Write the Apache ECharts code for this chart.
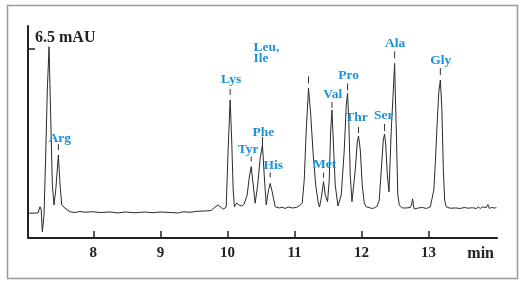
<!DOCTYPE html>
<html>
<head>
<meta charset="utf-8">
<script src="https://cdn.jsdelivr.net/npm/echarts@6/dist/echarts.min.js"></script>
<style>html,body{margin:0;padding:0;background:#fff}#c{width:522px;height:288px}</style>
</head>
<body>
<div id="c"></div>
<script>
// Chromatogram trace: retention time (min) and absorbance (mAU)
var traceTime = [7.033,7.175,7.204,7.222,7.239,7.264,7.287,7.313,7.339,7.361,7.388,7.413,7.439,7.478,7.503,7.528,7.578,7.652,
7.727,7.801,7.876,7.98,8.1,8.249,8.369,8.473,8.622,8.772,8.876,8.996,9.145,9.264,9.339,9.443,9.563,9.667,9.757,9.816,9.861,9.906,9.94,9.981,
10.01,10.04,10.063,10.085,10.104,10.14,10.167,10.19,10.215,10.249,10.294,10.324,10.354,10.384,10.413,10.451,10.488,10.522,10.548,10.578,
10.607,10.637,10.667,10.712,10.772,10.816,10.861,10.906,10.966,11.025,11.07,11.115,11.145,11.175,11.209,11.242,11.279,11.316,11.354,11.373,
11.399,11.433,11.458,11.493,11.518,11.54,11.558,11.578,11.607,11.648,11.697,11.742,11.772,11.791,11.809,11.831,11.857,11.906,11.936,11.955,11.981,12.01,12.04,12.07,
12.115,12.145,12.19,12.234,12.264,12.294,12.324,12.343,12.361,12.384,12.409,12.443,12.469,12.493,12.506,12.52,12.54,12.563,12.607,
12.667,12.727,12.734,12.749,12.761,12.775,12.787,12.846,12.906,12.966,13.025,13.051,13.078,13.1,13.13,13.152,13.175,13.197,13.22,13.239,13.264,
13.324,13.399,13.473,13.533,13.593,13.652,13.712,13.742,13.772,13.802,13.831,13.861,13.884,13.906,13.936,13.981,14.011];
var traceMAU = [-0.05,-0.04,0.21,0.08,-0.79,-0.12,2.07,4.86,6.59,4.07,1.08,0.28,0.88,2.27,1.08,0.28,0.15,0.01,
-0.02,0.02,-0.01,0.01,-0.02,0,-0.04,0,-0.03,0,-0.03,0,-0.02,-0.04,0.01,-0.01,0.03,0.04,0.06,0.2,0.28,0.18,0.11,0.2,
2.47,4.47,2.87,0.88,0.21,0.36,0.28,0.34,0.24,0.32,0.68,1.36,1.81,1.08,0.35,1.08,2.15,2.67,1.48,0.28,
0.8,1.14,0.8,0.21,0.16,0.19,0.14,0.2,0.16,0.18,0.24,0.36,1.28,3.27,4.93,3.87,2.27,1.08,0.36,0.2,
0.56,1.21,0.68,0.41,1.28,3.27,4.07,2.87,1.08,0.24,0.68,2.47,4.27,4.73,3.71,1.48,0.41,1.67,2.79,3.03,2.47,1.08,0.36,0.2,
0.18,0.14,0.16,0.24,0.48,1.67,2.87,3.11,2.67,1.48,0.8,3.27,4.6,5.93,4.47,3.07,0.68,0.28,0.16,
0.16,0.18,0.12,0.32,0.52,0.24,0.12,0.16,0.18,0.14,0.2,0.21,0.88,1.94,3.67,4.78,5.26,4.15,1.67,0.48,0.2,
0.15,0.16,0.14,0.18,0.15,0.17,0.14,0.2,0.14,0.2,0.13,0.18,0.3,0.14,0.18,0.16,0.17];

// Peak annotations
var peakNames = ['Arg','Lys','Tyr','Phe','His','Leu,\nIle','Met','Val','Pro','Thr','Ser','Ala','Gly'];
var peakTimes = [7.478,10.04,10.354,10.522,10.637,11.209,11.433,11.558,11.791,11.955,12.343,12.493,13.175];
var peakHeights = [2.27,4.47,1.81,2.67,1.14,4.93,1.21,4.07,4.73,3.03,3.11,5.93,5.26];

// Tick labels
var xTicks = [8,9,10,11,12,13];
var yTicks = [6.5];

// label nudges (pixels) - styling only: [dx, dy, tickStart, tickEnd]
var nudge = {
  'Arg':[1.4,1,5,11], 'Lys':[1,-2.7,5,11], 'Tyr':[-3,1.3,5,10], 'Phe':[1,5.7,0,8], 'His':[3,0,6,11],
  'Leu,\nIle':[-55,-17,5,12], 'Met':[1,1.3,4,9], 'Val':[0.8,3,2,8], 'Pro':[1,0,3,10], 'Thr':[-2,0,3,9],
  'Ser':[-0.8,0,3,10], 'Ala':[0.5,-2,5,12], 'Gly':[0.5,-1.3,5,12]
};

var serif = '"Liberation Serif", "DejaVu Serif", serif';
var blue = '#1a92d6';
var ink = '#222';

var traceData = traceTime.map(function(t,i){return [t, traceMAU[i]];});
var peakData = peakTimes.map(function(t,i){return [t, peakHeights[i], i];});

var chart = echarts.init(document.getElementById('c'), null, {renderer:'canvas'});
chart.setOption({
  animation:false,
  backgroundColor:'#fff',
  grid:{left:28, right:25, top:26, bottom:50, outerBoundsMode:'none', containLabel:false},
  xAxis:{
    type:'value', min:7.025, max:14.02,
    name:'min', nameLocation:'end', nameGap:-3,
    nameTextStyle:{fontFamily:serif, fontWeight:'bold', fontSize:16, color:ink, align:'right', verticalAlign:'top', padding:[8,0,0,0]},
    axisLine:{show:true, onZero:false, lineStyle:{color:ink, width:2}},
    axisTick:{show:true, inside:true, length:7, customValues:xTicks, lineStyle:{color:ink, width:1.5}},
    axisLabel:{show:true, customValues:xTicks, margin:8, fontFamily:serif, fontWeight:'bold', fontSize:15, color:ink},
    splitLine:{show:false}
  },
  yAxis:{
    type:'value', min:-1.037, max:7.416,
    axisLine:{show:true, onZero:false, lineStyle:{color:ink, width:2}},
    axisTick:{show:true, inside:true, length:7, customValues:yTicks, lineStyle:{color:ink, width:1.5}},
    axisLabel:{show:true, inside:true, customValues:yTicks, margin:7, formatter:'{value} mAU',
      verticalAlign:'bottom', padding:[0,0,3,0], fontFamily:serif, fontWeight:'bold', fontSize:16, color:ink},
    splitLine:{show:false}
  },
  graphic:[{type:'rect', shape:{x:7.5, y:5.5, width:510, height:273}, style:{fill:'none', stroke:'#9a9a9a', lineWidth:1.5}, silent:true, z:-1}],
  series:[
    {type:'line', data:traceData, symbol:'none', smooth:false,
      lineStyle:{color:'#2a2a2a', width:1}, z:2},
    {type:'custom', data:peakData, z:3,
      renderItem:function(params, api){
        var idx = api.value(2);
        var name = peakNames[idx];
        var n = nudge[name];
        var p = api.coord([api.value(0), api.value(1)]);
        var multi = name.indexOf('\n') >= 0;
        return {type:'group', children:[
          {type:'line', shape:{x1:p[0], y1:p[1]-n[2], x2:p[0], y2:p[1]-n[3]}, style:{stroke:'#333', lineWidth:1}},
          {type:'text', x:p[0]+n[0], y:p[1]-18+n[1], style:{text:name, fill:blue,
            font:'bold 13.5px ' + serif, align: multi ? 'left' : 'center', verticalAlign:'middle', lineHeight:11}}
        ]};
      }
    }
  ]
});
</script>
</body>
</html>
